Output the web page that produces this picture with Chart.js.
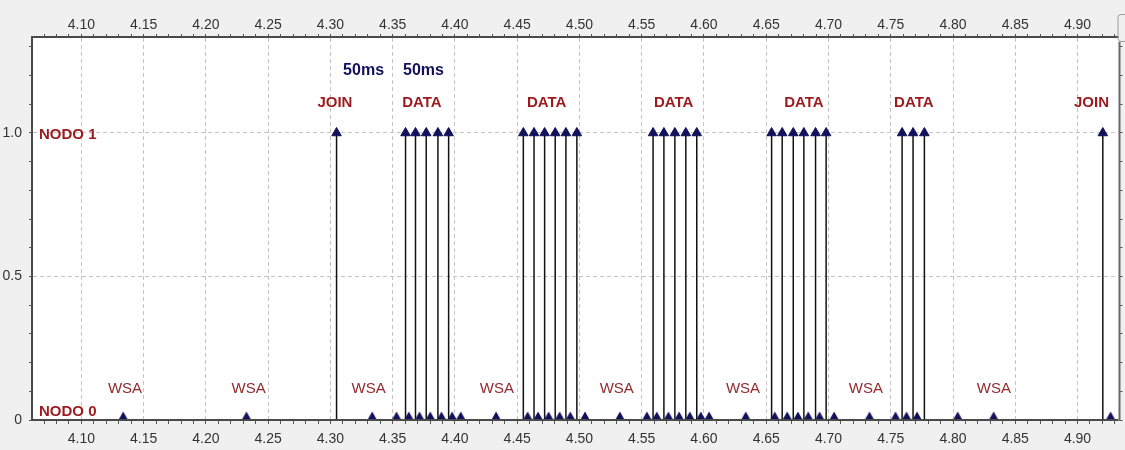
<!DOCTYPE html>
<html>
<head>
<meta charset="utf-8">
<script src="https://cdn.jsdelivr.net/npm/chart.js@4/dist/chart.umd.min.js"></script>
<style>
  html, body { margin: 0; padding: 0; background: #f0f0f0; }
  #wrap { width: 1125px; height: 450px; position: relative; }
</style>
</head>
<body>
<div id="wrap"><canvas id="c"></canvas></div>
<script>
// Transmission instants (s) of node 1: JOIN request, then bursts of DATA frames
const node1Times = [
  4.3049,
  4.3603, 4.3683, 4.3769, 4.3863, 4.3949,
  4.4549, 4.4635, 4.4720, 4.4805, 4.4891, 4.4979,
  4.5591, 4.5678, 4.5766, 4.5854, 4.5942,
  4.6543, 4.6628, 4.6717, 4.6802, 4.6896, 4.6981,
  4.7591, 4.7679, 4.7770,
  4.9203
];

// Transmission instants (s) of node 0: WSA beacons and acknowledgements
const node0Times = [
  4.1335, 4.2325, 4.3335,
  4.3530, 4.3629, 4.3715, 4.3801, 4.3891, 4.3977, 4.4046,
  4.4330,
  4.4583, 4.4667, 4.4752, 4.4840, 4.4926, 4.5044,
  4.5324,
  4.5541, 4.5621, 4.5714, 4.5800, 4.5886, 4.5974, 4.6041,
  4.6335,
  4.6568, 4.6668, 4.6754, 4.6837, 4.6928, 4.7045,
  4.7329,
  4.7538, 4.7626, 4.7711,
  4.8037, 4.8326, 4.9265
];

// Frame-type captions above node 1 and their time anchors
const eventNames = ['JOIN', 'DATA', 'DATA', 'DATA', 'DATA', 'DATA', 'JOIN'];
const eventX = [4.3036, 4.3735, 4.4737, 4.5756, 4.6802, 4.7685, 4.9112];
const eventY = 1.105;

// Interval captions
const intervalNames = ['50ms', '50ms'];
const intervalX = [4.3266, 4.3747];
const intervalY = 1.216;

// WSA captions above node 0
const wsaX = [4.1350, 4.2343, 4.3306, 4.4336, 4.5299, 4.6313, 4.7300, 4.8328];
const wsaY = 0.108;

// Node names and levels
const nodeNames = ['NODO 0', 'NODO 1'];
const nodeLabelY = [0.028, 0.993];

// Axis tick labels
const xLabelValues = [4.10, 4.15, 4.20, 4.25, 4.30, 4.35, 4.40, 4.45, 4.50,
                      4.55, 4.60, 4.65, 4.70, 4.75, 4.80, 4.85, 4.90];
const yLabelValues = [0, 0.5, 1.0];
const yLabelTexts = ['0', '0.5', '1.0'];

const X_MIN = 4.0611, X_MAX = 4.9329;
const Y_MIN = 0, Y_MAX = 1.331;

const NAVY = '#12125c';
const RED = '#9c1a1e';
const TICK_FONT = { family: "'Liberation Sans Narrow', 'Arial Narrow', 'Liberation Sans', sans-serif", size: 14 };

function findIndex(list, v) {
  for (let i = 0; i < list.length; i++) if (Math.abs(list[i] - v) < 1e-6) return i;
  return -1;
}

// Small marker sitting on the base line (triangle drawn above its anchor)
function baseMarker(color) {
  const c = document.createElement('canvas');
  c.width = 10; c.height = 18;
  const g = c.getContext('2d');
  g.fillStyle = color;
  g.beginPath();
  g.moveTo(0.5, 8.5);
  g.lineTo(9.5, 8.5);
  g.lineTo(5, 0.5);
  g.closePath();
  g.fill();
  return c;
}

const stemPoints = [];
node1Times.forEach(t => { stemPoints.push({ x: t, y: 0 }, { x: t, y: 1 }, { x: t, y: null }); });

const sharedX = {
  type: 'linear',
  min: X_MIN,
  max: X_MAX,
  border: { display: false, dash: [4, 3] },
  ticks: {
    stepSize: 0.01,
    includeBounds: false,
    autoSkip: false,
    maxRotation: 0,
    minRotation: 0,
    maxTicksLimit: 1000,
    color: '#333',
    font: TICK_FONT,
    callback: (v) => { const i = findIndex(xLabelValues, v); return i >= 0 ? xLabelValues[i].toFixed(2) : ''; }
  }
};

const framePlugin = {
  id: 'frame',
  beforeDraw(chart) {
    const { ctx, chartArea: a } = chart;
    ctx.save();
    ctx.fillStyle = '#f0f0f0';
    ctx.fillRect(0, 0, chart.width, chart.height);
    ctx.fillStyle = '#ffffff';
    ctx.fillRect(a.left, a.top, a.right - a.left, a.bottom - a.top);
    ctx.restore();
  },
  afterDatasetsDraw(chart) {
    const { ctx, chartArea: a, scales } = chart;
    const xs = scales.x, ys = scales.y;
    ctx.save();
    // plot frame
    ctx.fillStyle = '#4a4a4a';
    ctx.fillRect(a.left - 2, a.top - 2, 2, a.bottom - a.top + 3);
    ctx.fillRect(a.left - 2, a.top - 2, a.right - a.left + 2, 2);
    ctx.fillRect(a.left - 2, a.bottom - 1, a.right - a.left + 2, 2);
    ctx.fillStyle = '#6a6a6a';
    ctx.fillRect(a.right, a.top + 4, 2, a.bottom - a.top - 3);
    // small widget at the top right corner
    ctx.strokeStyle = '#9a9a9a';
    ctx.lineWidth = 1;
    ctx.beginPath();
    if (ctx.roundRect) ctx.roundRect(a.right - 0.5, 14.5, 12, 27, 3); else ctx.rect(a.right - 0.5, 14.5, 12, 27);
    ctx.stroke();

    ctx.textBaseline = 'middle';
    // node names
    ctx.font = "bold 15px 'Liberation Sans', Arial, sans-serif";
    ctx.fillStyle = RED;
    ctx.textAlign = 'left';
    nodeNames.forEach((n, i) => ctx.fillText(n, a.left + 6, ys.getPixelForValue(nodeLabelY[i])));
    // frame types
    ctx.textAlign = 'center';
    eventNames.forEach((n, i) => ctx.fillText(n, xs.getPixelForValue(eventX[i]), ys.getPixelForValue(eventY)));
    // intervals
    ctx.font = "bold 16px 'Liberation Sans', Arial, sans-serif";
    ctx.fillStyle = NAVY;
    intervalNames.forEach((n, i) => ctx.fillText(n, xs.getPixelForValue(intervalX[i]), ys.getPixelForValue(intervalY)));
    // WSA beacons
    ctx.font = "15px 'Liberation Sans', Arial, sans-serif";
    ctx.fillStyle = '#932a2e';
    wsaX.forEach(x => ctx.fillText('WSA', xs.getPixelForValue(x), ys.getPixelForValue(wsaY)));
    ctx.restore();
  }
};

new Chart(document.getElementById('c'), {
  type: 'line',
  data: {
    datasets: [
      {
        label: 'node1-heads',
        data: node1Times.map(t => ({ x: t, y: 1 })),
        showLine: false,
        pointStyle: 'triangle',
        pointRadius: 5.5,
        pointBorderWidth: 1,
        pointBackgroundColor: NAVY,
        pointBorderColor: NAVY
      },
      {
        label: 'node0',
        data: node0Times.map(t => ({ x: t, y: 0 })),
        showLine: false,
        pointStyle: baseMarker(NAVY),
        pointRadius: 4,
        pointBorderWidth: 0
      },
      {
        label: 'node1-stems',
        data: stemPoints,
        borderColor: '#111111',
        borderWidth: 1.5,
        pointRadius: 0,
        spanGaps: false,
        tension: 0
      }
    ]
  },
  options: {
    responsive: true,
    maintainAspectRatio: false,
    animation: false,
    layout: { padding: 0 },
    plugins: { legend: { display: false }, tooltip: { enabled: false } },
    scales: {
      x: Object.assign({}, sharedX, {
        position: 'bottom',
        afterFit: s => { s.height = 30; },
        grid: {
          drawOnChartArea: true,
          drawTicks: true,
          tickLength: 4,
          tickColor: '#555',
          lineWidth: 1,
          color: c => findIndex(xLabelValues, c.tick.value) >= 0 ? '#c4c4c4' : 'rgba(0,0,0,0)'
        },
        ticks: Object.assign({}, sharedX.ticks, { padding: 7 })
      }),
      x2: Object.assign({}, sharedX, {
        position: 'top',
        afterFit: s => { s.height = 38; },
        grid: { drawOnChartArea: false, drawTicks: true, tickLength: 4, tickColor: '#555', color: '#555' },
        ticks: Object.assign({}, sharedX.ticks, { padding: 0 })
      }),
      y: {
        type: 'linear',
        position: 'left',
        min: Y_MIN,
        max: Y_MAX,
        afterFit: s => { s.width = 33; },
        border: { display: false, dash: [4, 3] },
        grid: {
          drawOnChartArea: true,
          drawTicks: true,
          tickLength: 4,
          tickColor: '#555',
          color: c => (c.tick && findIndex([0.5, 1.0], c.tick.value) >= 0) ? '#c4c4c4' : 'rgba(0,0,0,0)'
        },
        ticks: {
          stepSize: 0.1,
          includeBounds: false,
          autoSkip: false,
          padding: 7,
          color: '#333',
          font: TICK_FONT,
          callback: v => { const i = findIndex(yLabelValues, v); return i >= 0 ? yLabelTexts[i] : ''; }
        }
      },
      y2: {
        type: 'linear',
        position: 'right',
        min: Y_MIN,
        max: Y_MAX,
        afterFit: s => { s.width = 5; },
        border: { display: false },
        grid: { drawOnChartArea: false, drawTicks: true, tickLength: 4, tickColor: '#555' },
        ticks: { stepSize: 0.1, includeBounds: false, display: true, padding: 0, callback: () => '' }
      }
    }
  },
  plugins: [framePlugin]
});
</script>
</body>
</html>
